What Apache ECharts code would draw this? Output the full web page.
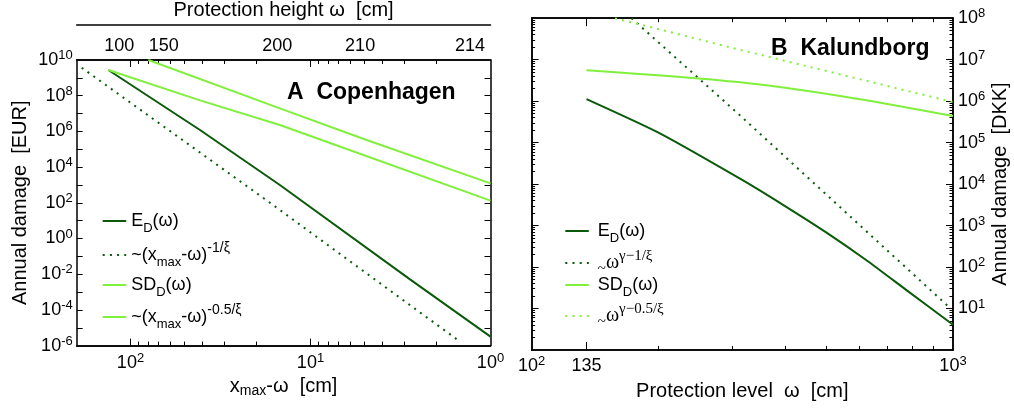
<!DOCTYPE html>
<html><head><meta charset="utf-8">
<script src="https://cdn.jsdelivr.net/npm/echarts@6/dist/echarts.min.js"></script>
<style>html,body{margin:0;padding:0;background:#fff}#c{width:1014px;height:409px}</style>
</head><body><div id="c"></div>
<script>
// ---------- Panel A: Copenhagen (x = x_max - ω [cm], y = annual damage [EUR]) ----------
const cphXmax = 215.3;                       // x_max used for the top ω axis
const cphTopTickLabels = [100, 150, 200, 210, 214];
const cphED_x  = [132.8, 41.1, 14.8, 2.8, 1.0];
const cphED_y  = [2.75e9, 1.2e6, 1.0e3, 5.1e-3, 3.2e-6];
const cphEDfit_x = [186.7, 17.1, 1.476];
const cphEDfit_y = [3.7e9, 115, 1.66e-6];
const cphSD_x  = [132.8, 41.1, 14.8, 8.67, 1.0];
const cphSD_y  = [2.75e9, 5.5e7, 2.3e6, 3.3e5, 132];
const cphSDfit_x = [79.6, 14.8, 4.88, 1.0];
const cphSDfit_y = [1.0e10, 1.95e7, 3.3e5, 1230];

// ---------- Panel B: Kalundborg (x = protection level ω [cm], y = annual damage [DKK]) ----------
const kalBottomTickLabels = [100, 135, 1000];
const kalED_x  = [135, 200, 316, 395, 501, 622, 774, 1000];
const kalED_y  = [1.12e6, 1.74e5, 1.26e4, 3.16e3, 676, 148, 28.2, 4.07];
const kalEDfit_x = [172.6, 309, 970.6];
const kalEDfit_y = [1.0e8, 5.0e5, 11.7];
const kalSD_x  = [135, 309, 558, 1000];
const kalSD_y  = [5.56e6, 2.88e6, 1.26e6, 4.37e5];
const kalSDfit_x = [157.8, 309, 1000];
const kalSDfit_y = [1.0e8, 1.78e7, 9.5e5];

const FONT = 'Liberation Sans', SERIF = 'Liberation Serif';
const DARK = '#0a5a0a', LIGHT = '#80f03c';
const DOT = [2, 5.2];

function pairs(xs, ys) { return xs.map((x, i) => [x, ys[i]]); }
function decades(a, b) { const r = []; for (let e = a; e <= b; e++) r.push(Math.pow(10, e)); return r; }
function minors(a, b) { const r = []; for (let e = a; e < b; e++) for (let k = 2; k <= 9; k++) r.push(k * Math.pow(10, e)); return r; }
function pow10Label(v) { const e = Math.round(Math.log10(v)); return '{b|10}{s|' + e + '}'; }

const tickRich = {
  b: { fontSize: 18, fontFamily: FONT, lineHeight: 22, color: '#000' },
  s: { fontSize: 13, fontFamily: FONT, lineHeight: 12, verticalAlign: 'top', color: '#000' }
};
const nameRich = {
  n: { fontSize: 20, fontFamily: FONT, color: '#000', lineHeight: 24 },
  sub: { fontSize: 14, fontFamily: FONT, color: '#000', lineHeight: 10, verticalAlign: 'bottom' }
};
const LINE = { show: true, onZero: false, lineStyle: { color: '#000', width: 1.5 } };

function frame(o) {
  return Object.assign({
    type: 'log', logBase: 10, splitLine: { show: false },
    axisLine: LINE, axisTick: { show: false }, axisLabel: { show: false },
    minorTick: { show: false }, minorSplitLine: { show: false }
  }, o);
}
function ticks(vals, len) {
  return { show: true, inside: true, length: len, customValues: vals, lineStyle: { color: '#000', width: 1 } };
}

const axA_x = { gridIndex: 0, min: 1, max: 199, inverse: true };
const axA_y = { gridIndex: 0, min: 1e-6, max: 1e10 };
const axB_x = { gridIndex: 1, min: 100, max: 1000 };
const axB_y = { gridIndex: 1, min: 1, max: 1e8 };

const xAxis = [
  frame(Object.assign({}, axA_x, {
    position: 'bottom', axisTick: ticks([100, 10], 7),
    axisLabel: { show: true, customValues: decades(0, 2), formatter: pow10Label, rich: tickRich, margin: 6 },
    name: '{n|x}{sub|max}{n|-ω  [cm]}', nameLocation: 'middle', nameGap: 26, nameTextStyle: { rich: nameRich }
  })),
  frame(Object.assign({}, axA_x, { position: 'bottom', axisTick: ticks(minors(0, 2), 4) })),
  frame(Object.assign({}, axA_x, { position: 'top', axisTick: ticks([100, 10], 7) })),
  frame(Object.assign({}, axA_x, { position: 'top', axisTick: ticks(minors(0, 2), 4) })),
  frame(Object.assign({}, axA_x, {
    position: 'top', offset: 35,
    axisLabel: { show: true, inside: true, margin: 12, customValues: cphTopTickLabels.map(w => cphXmax - w),
      formatter: v => String(Math.round(cphXmax - v)), fontSize: 18, fontFamily: FONT, color: '#000' },
    name: 'Protection height ω  [cm]', nameLocation: 'middle', nameGap: -5,
    nameTextStyle: { fontSize: 20, fontFamily: FONT, color: '#000' }
  })),
  frame(Object.assign({}, axB_x, {
    position: 'bottom', axisTick: ticks([135], 8),
    axisLabel: { show: true, customValues: kalBottomTickLabels, margin: 5, rich: tickRich,
      formatter: v => (Math.abs(Math.log10(v) - Math.round(Math.log10(v))) < 1e-9 ? pow10Label(v) : '{b|' + Math.round(v) + '}') },
    name: 'Protection level  ω  [cm]', nameLocation: 'middle', nameGap: 31,
    nameTextStyle: { fontSize: 20, fontFamily: FONT, color: '#000' }
  })),
  frame(Object.assign({}, axB_x, { position: 'bottom', axisTick: ticks(minors(2, 3), 4) })),
  frame(Object.assign({}, axB_x, { position: 'top', axisTick: ticks([135], 8) })),
  frame(Object.assign({}, axB_x, { position: 'top', axisTick: ticks(minors(2, 3), 4) }))
];

const yAxis = [
  frame(Object.assign({}, axA_y, {
    position: 'left', axisTick: ticks(decades(-5, 9), 6),
    axisLabel: { show: true, customValues: [-6, -4, -2, 0, 2, 4, 6, 8, 10].map(e => Math.pow(10, e)), formatter: pow10Label, rich: tickRich, margin: 4 },
    name: 'Annual damage  [EUR]', nameLocation: 'middle', nameGap: 46, nameRotate: 90,
    nameTextStyle: { fontSize: 20, fontFamily: FONT, color: '#000' }
  })),
  frame(Object.assign({}, axA_y, { position: 'right', axisTick: ticks(decades(-5, 9), 6) })),
  frame(Object.assign({}, axB_y, { position: 'left', axisTick: ticks(decades(1, 7), 7) })),
  frame(Object.assign({}, axB_y, { position: 'left', axisTick: ticks(minors(0, 8), 3.5) })),
  frame(Object.assign({}, axB_y, {
    position: 'right', axisTick: ticks(decades(1, 7), 7),
    axisLabel: { show: true, customValues: decades(1, 8), formatter: pow10Label, rich: tickRich, margin: 5 },
    name: 'Annual damage  [DKK]', nameLocation: 'middle', nameGap: 37, nameRotate: 90,
    nameTextStyle: { fontSize: 20, fontFamily: FONT, color: '#000' }
  })),
  frame(Object.assign({}, axB_y, { position: 'right', axisTick: ticks(minors(0, 8), 3.5) }))
];

function line(name, xi, yi, data, color, dotted) {
  return {
    type: 'line', name: name, xAxisIndex: xi, yAxisIndex: yi, data: data, symbol: 'none',
    smooth: false, animation: false, clip: true,
    lineStyle: { color: color, width: 2, type: dotted ? DOT : 'solid', cap: 'butt' },
    itemStyle: { color: color }
  };
}
const series = [
  line('aED', 0, 0, pairs(cphED_x, cphED_y), DARK, false),
  line('aEDfit', 0, 0, pairs(cphEDfit_x, cphEDfit_y), DARK, true),
  line('aSD', 0, 0, pairs(cphSD_x, cphSD_y), LIGHT, false),
  line('aSDfit', 0, 0, pairs(cphSDfit_x, cphSDfit_y), LIGHT, false),
  Object.assign(line('bED', 5, 2, pairs(kalED_x, kalED_y), DARK, false), { smooth: 0.2 }),
  line('bEDfit', 5, 2, pairs(kalEDfit_x, kalEDfit_y), DARK, true),
  Object.assign(line('bSD', 5, 2, pairs(kalSD_x, kalSD_y), LIGHT, false), { smooth: 0.3 }),
  line('bSDfit', 5, 2, pairs(kalSDfit_x, kalSDfit_y), LIGHT, true)
];

const legendText = {
  aED: '{n|E}{sub|D}{n|(ω)}',
  aEDfit: '{n|~(x}{sub|max}{n|-ω)}{sup|-1/ξ}',
  aSD: '{n|SD}{sub|D}{n|(ω)}',
  aSDfit: '{n|~(x}{sub|max}{n|-ω)}{sup|-0.5/ξ}',
  bED: '{n|E}{sub|D}{n|(ω)}',
  bEDfit: '{t|~}{w|ω}{ssup|γ−1/ξ}',
  bSD: '{n|SD}{sub|D}{n|(ω)}',
  bSDfit: '{t|~}{w|ω}{ssup|γ−0.5/ξ}'
};
const legendRich = {
  n: { fontSize: 18, fontFamily: FONT, color: '#000', lineHeight: 28 },
  sub: { fontSize: 13, fontFamily: FONT, color: '#000', lineHeight: 10, verticalAlign: 'bottom' },
  sup: { fontSize: 14, fontFamily: FONT, color: '#000', lineHeight: 12, verticalAlign: 'top' },
  t: { fontSize: 15, fontFamily: SERIF, color: '#000', lineHeight: 23, verticalAlign: 'bottom' },
  w: { fontSize: 20, fontFamily: SERIF, color: '#000', lineHeight: 28 },
  ssup: { fontSize: 15, fontFamily: SERIF, color: '#000', lineHeight: 12, verticalAlign: 'top' }
};
function leg(name, left, top, pad) {
  return {
    data: [name], left: left, top: top, orient: 'vertical', padding: 0, itemGap: 0,
    itemWidth: 23.5, itemHeight: 12, selectedMode: false,
    itemStyle: { opacity: 0 },
    formatter: n => legendText[n], textStyle: { rich: legendRich, color: '#000', padding: [0, 0, 0, pad] }
  };
}
const legend = [
  leg('aED', 101.7, 212, 0), leg('aEDfit', 101.7, 241, 0), leg('aSD', 101.7, 276, 0), leg('aSDfit', 101.7, 303, 0),
  leg('bED', 564.3, 222, 4), leg('bEDfit', 564.3, 249, 4), leg('bSD', 564.3, 276, 4), leg('bSDfit', 564.3, 302, 4)
];

const titleRich = { b: { fontWeight: 'bold', fontSize: 23, fontFamily: FONT, color: '#000' }, r: { fontSize: 23, fontFamily: FONT, color: '#000' } };
const title = [
  { text: '{b|A}{r|  Copenhagen}', left: 287, top: 81, padding: 0, textStyle: { rich: titleRich } },
  { text: '{b|B}{r|  Kalundborg}', left: 771, top: 37, padding: 0, textStyle: { rich: titleRich } }
];

const chart = echarts.init(document.getElementById('c'), null, { renderer: 'canvas' });
chart.setOption({
  animation: false, backgroundColor: '#fff',
  textStyle: { fontFamily: FONT },
  grid: [
    { left: 76.7, top: 60, width: 413.8, height: 285.6, outerBoundsMode: 'none' },
    { left: 531.6, top: 18.2, width: 421.4, height: 331.8, outerBoundsMode: 'none' }
  ],
  title: title, legend: legend, xAxis: xAxis, yAxis: yAxis, series: series
});
</script></body></html>
